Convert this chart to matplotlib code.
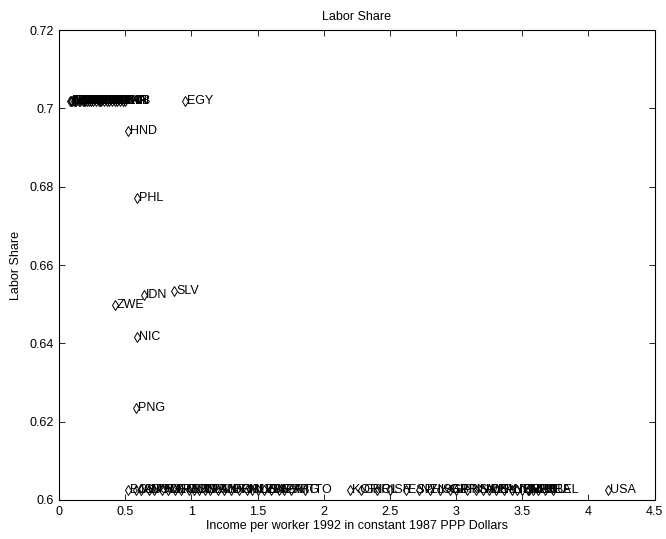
import matplotlib
matplotlib.use('Agg')
import matplotlib.pyplot as plt

plt.rcParams['font.family'] = ['Liberation Sans', 'DejaVu Sans']

# Income per worker 1992 (units of 10,000 1987 PPP dollars) and labor share
top_codes = ['ETH', 'BDI', 'MWI', 'UGA', 'TZA', 'RWA', 'MLI', 'NER', 'BFA',
             'TCD', 'MDG', 'TGO', 'KEN', 'GMB', 'NPL', 'BEN', 'MOZ', 'CAF',
             'GHA', 'NGA', 'IND', 'PAK', 'SEN', 'LKA', 'CMR', 'CHN', 'ZMB', 'KIA']
top_income = [0.08, 0.09, 0.10, 0.11, 0.12, 0.13, 0.15, 0.16, 0.18,
              0.19, 0.20, 0.21, 0.23, 0.24, 0.26, 0.28, 0.30, 0.31,
              0.32, 0.34, 0.36, 0.38, 0.40, 0.42, 0.44, 0.46, 0.48, 0.50]
top_share = 0.7019

mid_codes = ['EGY', 'HND', 'PHL', 'SLV', 'IDN', 'ZWE', 'NIC', 'PNG']
mid_income = [0.95, 0.52, 0.59, 0.87, 0.64, 0.42, 0.59, 0.58]
mid_share = [0.7020, 0.6942, 0.6771, 0.6534, 0.6524, 0.6497, 0.6417, 0.6235]

bottom_codes = ['BOL', 'JAM', 'GUY', 'DOM', 'PRY', 'MAR', 'GTM', 'ECU', 'PER',
                'TUN', 'COL', 'THA', 'CRI', 'PAN', 'TUR', 'JOR', 'BRA', 'CHL',
                'MUS', 'MYS', 'URY', 'ZAF', 'MEX', 'VEN', 'PRT', 'ARG', 'TTO',
                'KOR', 'GRC', 'IRL', 'ISR', 'ESP', 'NZL', 'HKG', 'SGP', 'GBR',
                'JPN', 'FIN', 'SWE', 'AUT', 'DNK', 'ISL', 'AUS', 'NOR', 'ITA',
                'FRA', 'NLD', 'CHE', 'DEU', 'NED', 'SEA', 'BEL', 'USA']
bottom_income = [0.52, 0.58, 0.62, 0.68, 0.72, 0.78, 0.82, 0.88, 0.92,
                 0.98, 1.02, 1.06, 1.10, 1.14, 1.20, 1.25, 1.30, 1.36,
                 1.42, 1.46, 1.50, 1.55, 1.60, 1.66, 1.70, 1.75, 1.86,
                 2.20, 2.28, 2.40, 2.50, 2.62, 2.72, 2.80, 2.88, 2.95,
                 3.00, 3.08, 3.15, 3.20, 3.25, 3.30, 3.36, 3.42, 3.46,
                 3.50, 3.54, 3.58, 3.62, 3.55, 3.67, 3.73, 4.15]
bottom_share = 0.6025

codes = top_codes + mid_codes + bottom_codes
income = top_income + mid_income + bottom_income
share = [top_share] * len(top_codes) + mid_share + [bottom_share] * len(bottom_codes)

fig = plt.figure(figsize=(6.66, 5.39), dpi=100)
ax = fig.add_axes([0.0886, 0.0724, 0.8944, 0.8716])

ax.plot(income, share, linestyle='none', marker='d', markersize=5.5,
        markerfacecolor='none', markeredgecolor='black', markeredgewidth=0.7)
for c, x, y in zip(codes, income, share):
    ax.annotate(c, (x, y), xytext=(1.5, 0), textcoords='offset points',
                ha='left', va='center', fontsize=9)

ax.set_xlim(0, 4.5)
ax.set_ylim(0.6, 0.72)
ax.set_xticks([0, 0.5, 1, 1.5, 2, 2.5, 3, 3.5, 4, 4.5])
ax.set_xticklabels(['0', '0.5', '1', '1.5', '2', '2.5', '3', '3.5', '4', '4.5'])
ax.set_yticks([0.6, 0.62, 0.64, 0.66, 0.68, 0.7, 0.72])
ax.set_yticklabels(['0.6', '0.62', '0.64', '0.66', '0.68', '0.7', '0.72'])
ax.tick_params(direction='in', top=True, right=True, labelsize=9, length=4,
               width=0.6, pad=4)
for s in ax.spines.values():
    s.set_linewidth(0.8)

ax.set_title('Labor Share', fontsize=9, pad=7)
ax.set_xlabel('Income per worker 1992 in constant 1987 PPP Dollars', fontsize=9, labelpad=2)
ax.set_ylabel('Labor Share', fontsize=9, labelpad=5)

fig.savefig('out.png', dpi=100)
